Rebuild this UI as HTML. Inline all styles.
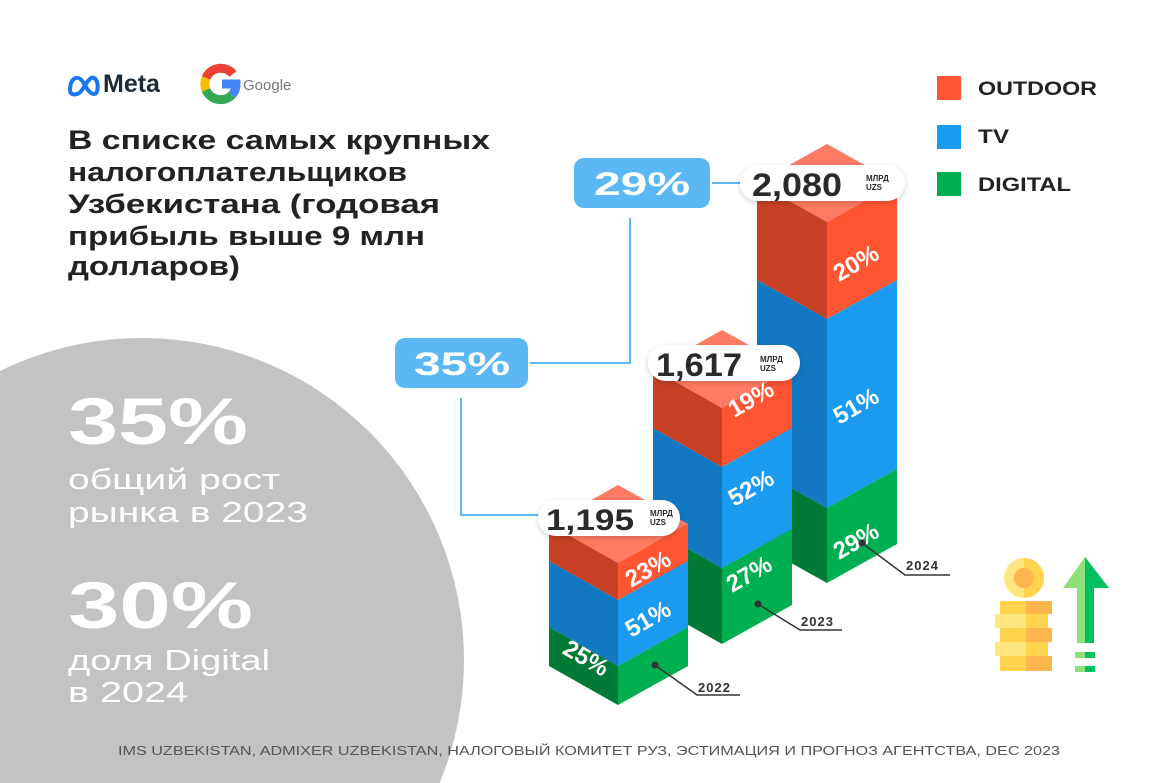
<!DOCTYPE html>
<html><head><meta charset="utf-8"><style>
html,body{margin:0;padding:0;background:#fff;width:1176px;height:783px;overflow:hidden;}
svg{display:block;font-family:"Liberation Sans",sans-serif;}
</style></head><body>
<svg width="1176" height="783" viewBox="0 0 1176 783" xmlns="http://www.w3.org/2000/svg">
<defs>
<filter id="sh" x="-20%" y="-40%" width="140%" height="180%"><feDropShadow dx="0" dy="2" stdDeviation="3" flood-color="#000" flood-opacity="0.18"/></filter>
</defs>
<rect width="1176" height="783" fill="#fff"/>
<circle cx="142" cy="660" r="322" fill="#c3c3c3"/>

<!-- logos -->
<g transform="translate(68,72)">
<path d="M2 18 C2 6 10 2 15 10 C19 17 22 22 26 22 C31 22 31 8 26 6 C22 4 18 12 14 18 C10 24 2 24 2 18 Z" fill="none" stroke="#1877f2" stroke-width="4"/>
</g>
<text x="103" y="92" font-size="25" fill="#1c2b33" font-weight="bold">Meta</text>
<g transform="translate(220,84)" fill="none" stroke-width="9">
<path d="M13 -10 A16 16 0 0 0 -14 -6" stroke="#ea4335"/>
<path d="M-14 -6 A16 16 0 0 0 -14 6" stroke="#fbbc05"/>
<path d="M-14 6 A16 16 0 0 0 12 11" stroke="#34a853"/>
<path d="M12 11 A16 16 0 0 0 16 0 L2 0" stroke="#4285f4"/>
</g>
<text x="243" y="90" font-size="15" fill="#777">Google</text>

<!-- heading -->
<g font-size="27" font-weight="bold" fill="#222">
<text x="68" y="149" textLength="422" lengthAdjust="spacingAndGlyphs">В списке самых крупных</text>
<text x="68" y="181" textLength="339" lengthAdjust="spacingAndGlyphs">налогоплательщиков</text>
<text x="68" y="213" textLength="372" lengthAdjust="spacingAndGlyphs">Узбекистана (годовая</text>
<text x="68" y="245" textLength="357" lengthAdjust="spacingAndGlyphs">прибыль выше 9 млн</text>
<text x="68" y="275" textLength="172" lengthAdjust="spacingAndGlyphs">долларов)</text>
</g>

<!-- left stats -->
<g fill="#fff">
<text x="68" y="444" font-size="66" font-weight="bold" textLength="180" lengthAdjust="spacingAndGlyphs">35%</text>
<text x="68" y="489" font-size="29" textLength="212" lengthAdjust="spacingAndGlyphs">общий рост</text>
<text x="68" y="522" font-size="29" textLength="240" lengthAdjust="spacingAndGlyphs">рынка в 2023</text>
<text x="68" y="628" font-size="66" font-weight="bold" textLength="185" lengthAdjust="spacingAndGlyphs">30%</text>
<text x="68" y="670" font-size="29" textLength="202" lengthAdjust="spacingAndGlyphs">доля Digital</text>
<text x="68" y="702" font-size="29" textLength="120" lengthAdjust="spacingAndGlyphs">в 2024</text>
</g>

<!-- legend -->
<rect x="937" y="76" width="24" height="24" fill="#ff5533"/>
<rect x="937" y="125" width="24" height="24" fill="#1a9bef"/>
<rect x="937" y="172" width="24" height="24" fill="#00b050"/>
<g font-size="19" font-weight="bold" fill="#222">
<text x="978" y="95" textLength="119" lengthAdjust="spacingAndGlyphs">OUTDOOR</text>
<text x="978" y="143" textLength="31" lengthAdjust="spacingAndGlyphs">TV</text>
<text x="978" y="191" textLength="93" lengthAdjust="spacingAndGlyphs">DIGITAL</text>
</g>

<!-- connectors -->
<g stroke="#5bb8f5" stroke-width="2" fill="none">
<path d="M712 183 H740"/>
<path d="M630 218 V363 H530"/>
<path d="M461 398 V515 H540"/>
</g>
<rect x="574" y="158" width="136" height="50" rx="10" fill="#5bb8f5"/>
<text x="594" y="195" font-size="32" font-weight="bold" fill="#fff" textLength="96" lengthAdjust="spacingAndGlyphs">29%</text>
<rect x="395" y="338" width="133" height="50" rx="10" fill="#5bb8f5"/>
<text x="414" y="375" font-size="32" font-weight="bold" fill="#fff" textLength="96" lengthAdjust="spacingAndGlyphs">35%</text>

<!-- bar 2024 -->
<g>
<polygon points="757,183 827,222 897,183 827,144" fill="#ff7b63"/>
<polygon points="757,183 827,222 827,319 757,280" fill="#c94125"/>
<polygon points="827,222 897,183 897,280 827,319" fill="#ff5533"/>
<polygon points="757,280 827,319 827,508 757,469" fill="#1378c2"/>
<polygon points="827,319 897,280 897,469 827,508" fill="#1a9bef"/>
<polygon points="757,469 827,508 827,583 757,544" fill="#007a35"/>
<polygon points="827,508 897,469 897,544 827,583" fill="#00b050"/>
</g>
<!-- bar 2023 -->
<g>
<polygon points="653,369 722,408 792,369 722,330" fill="#ff7b63"/>
<polygon points="653,369 722,408 722,467 653,428" fill="#c94125"/>
<polygon points="722,408 792,369 792,428 722,467" fill="#ff5533"/>
<polygon points="653,428 722,467 722,568 653,529" fill="#1378c2"/>
<polygon points="722,467 792,428 792,529 722,568" fill="#1a9bef"/>
<polygon points="653,529 722,568 722,644 653,605" fill="#007a35"/>
<polygon points="722,568 792,529 792,605 722,644" fill="#00b050"/>
</g>
<!-- bar 2022 -->
<g>
<polygon points="549,524 618,563 688,524 618,485" fill="#ff7b63"/>
<polygon points="549,524 618,563 618,600 549,561" fill="#c94125"/>
<polygon points="618,563 688,524 688,561 618,600" fill="#ff5533"/>
<polygon points="549,561 618,600 618,666 549,627" fill="#1378c2"/>
<polygon points="618,600 688,561 688,627 618,666" fill="#1a9bef"/>
<polygon points="549,627 618,666 618,705 549,666" fill="#007a35"/>
<polygon points="618,666 688,627 688,666 618,705" fill="#00b050"/>
</g>

<!-- percents -->
<g font-size="24" font-weight="bold" fill="#fff" text-anchor="middle">
<text transform="translate(860,270) rotate(-30)">20%</text>
<text transform="translate(860,413) rotate(-30)">51%</text>
<text transform="translate(860,548) rotate(-30)">29%</text>
<text transform="translate(755,406) rotate(-30)">19%</text>
<text transform="translate(755,495) rotate(-30)">52%</text>
<text transform="translate(753,581) rotate(-30)">27%</text>
<text transform="translate(652,576) rotate(-30)">23%</text>
<text transform="translate(652,626) rotate(-30)">51%</text>
<text transform="translate(582,665) rotate(30)">25%</text>
</g>

<!-- value pills -->
<g filter="url(#sh)" fill="#fff">
<rect x="740" y="165" width="165" height="36" rx="18"/>
<rect x="648" y="345" width="152" height="36" rx="18"/>
<rect x="538" y="500" width="142" height="36" rx="18"/>
</g>
<g font-weight="bold" fill="#2a2a2a">
<text x="752" y="196" font-size="32" textLength="90" lengthAdjust="spacingAndGlyphs">2,080</text>
<text x="866" y="181" font-size="8">МЛРД</text><text x="866" y="190" font-size="8">UZS</text>
<text x="656" y="376" font-size="32" textLength="86" lengthAdjust="spacingAndGlyphs">1,617</text>
<text x="760" y="362" font-size="8">МЛРД</text><text x="760" y="371" font-size="8">UZS</text>
<text x="546" y="530" font-size="30" textLength="88" lengthAdjust="spacingAndGlyphs">1,195</text>
<text x="650" y="516" font-size="8">МЛРД</text><text x="650" y="525" font-size="8">UZS</text>
</g>

<!-- year labels -->
<g stroke="#333" stroke-width="1.5" fill="none">
<path d="M862 543 L905 575 H950"/>
<path d="M758 604 L800 630 H842"/>
<path d="M655 665 L697 695 H740"/>
</g>
<g fill="#333"><circle cx="862" cy="543" r="3.5"/><circle cx="758" cy="604" r="3.5"/><circle cx="655" cy="665" r="3.5"/></g>
<g font-size="13" font-weight="bold" fill="#333" letter-spacing="1">
<text x="906" y="570">2024</text>
<text x="801" y="626">2023</text>
<text x="698" y="692">2022</text>
</g>

<!-- coins icon -->
<g>
<rect x="1000" y="601" width="26" height="13" fill="#ffd34d"/><rect x="1026" y="601" width="26" height="13" fill="#ffb54d"/>
<rect x="995" y="614" width="31" height="14" fill="#ffe680"/><rect x="1026" y="614" width="22" height="14" fill="#ffd34d"/>
<rect x="1000" y="628" width="26" height="14" fill="#ffd34d"/><rect x="1026" y="628" width="26" height="14" fill="#ffb54d"/>
<rect x="995" y="642" width="31" height="14" fill="#ffe680"/><rect x="1026" y="642" width="22" height="14" fill="#ffd34d"/>
<rect x="1000" y="656" width="26" height="15" fill="#ffd34d"/><rect x="1026" y="656" width="26" height="15" fill="#ffb54d"/>
<circle cx="1024" cy="578" r="20" fill="#ffe680"/>
<path d="M1024 558 A20 20 0 0 1 1024 598 Z" fill="#ffd34d"/>
<circle cx="1024" cy="578" r="10" fill="#ffb54d"/>
<polygon points="1085,557 1109,588 1094,588 1094,643 1077,643 1077,588 1063,588" fill="#8ee07a"/>
<polygon points="1085,557 1109,588 1094,588 1094,643 1085,643" fill="#00c060"/>
<rect x="1075" y="652" width="20" height="6" fill="#00c060"/><rect x="1075" y="652" width="10" height="6" fill="#8ee07a"/>
<rect x="1075" y="666" width="20" height="6" fill="#00c060"/><rect x="1075" y="666" width="10" height="6" fill="#8ee07a"/>
</g>

<text x="118" y="755" font-size="13" fill="#555" textLength="942" lengthAdjust="spacingAndGlyphs">IMS UZBEKISTAN, ADMIXER UZBEKISTAN, НАЛОГОВЫЙ КОМИТЕТ РУЗ, ЭСТИМАЦИЯ И ПРОГНОЗ АГЕНТСТВА, DEC 2023</text>
</svg>
</body></html>
